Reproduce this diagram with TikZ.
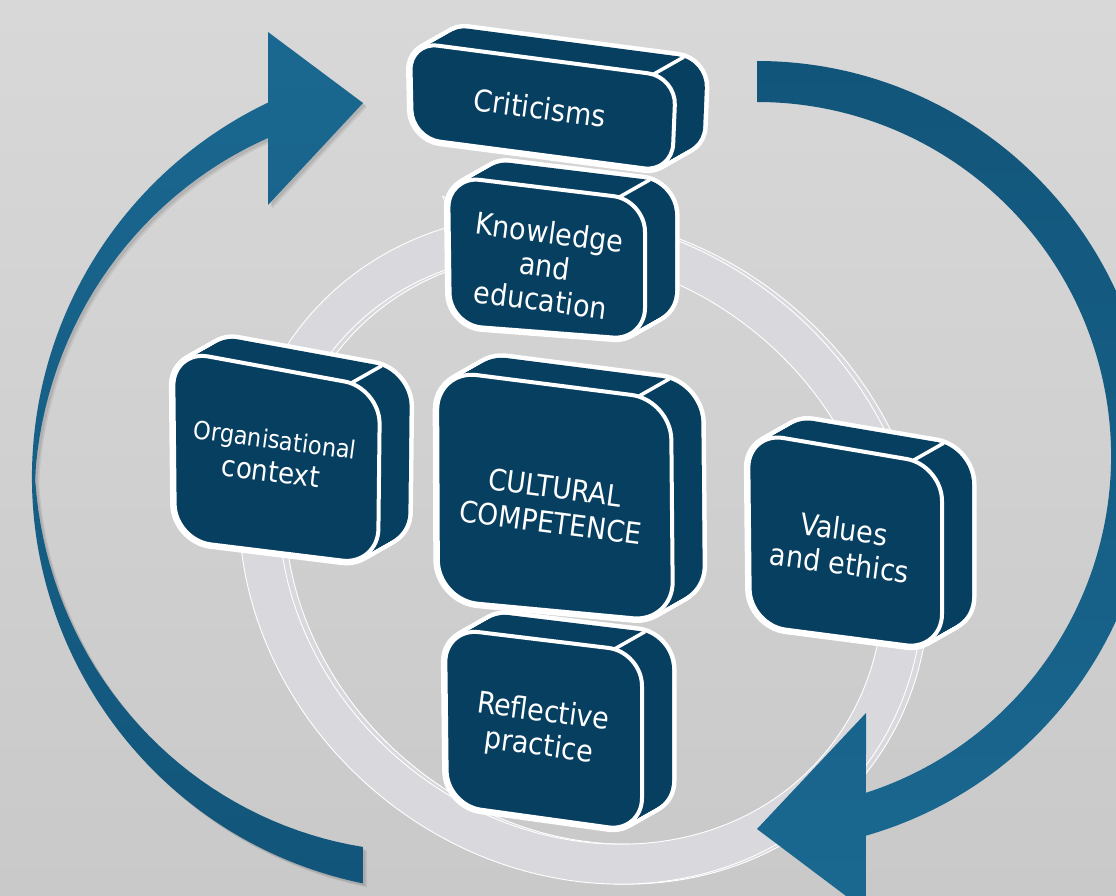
\documentclass[tikz,border=0pt]{standalone}
\usepackage{fontspec}
\setmainfont{DejaVu Sans Condensed}
\usetikzlibrary{calc}
\definecolor{navy}{HTML}{073F61}
\definecolor{arrowA}{HTML}{1A6891}
\definecolor{arrowB}{HTML}{12557A}
\definecolor{ringfill}{HTML}{D9D9DD}
\definecolor{bgtop}{HTML}{D8D8D8}
\definecolor{bgbot}{HTML}{C9C9C9}
\newcommand\drawcube[5]{%
 \foreach \ii in {0,...,16}{\path[draw=white,fill=white,line width=9pt,line join=round,rounded corners=#5pt,shift={({30*\ii/16},{-17*\ii/16})}] (#1)--(#2)--(#3)--(#4)--cycle;}%
 \foreach \ii in {0,...,16}{\path[fill=navy,rounded corners=#5pt,shift={({30*\ii/16},{-17*\ii/16})}] (#1)--(#2)--(#3)--(#4)--cycle;}%
 \draw[white,line width=3.5pt] ($(#2)!0.8*#5pt!(#1)$) -- ++(30,-17);%
 \draw[white,line width=4pt,fill=navy,rounded corners=#5pt] (#1)--(#2)--(#3)--(#4)--cycle;%
}
\tikzset{
 lbl/.style={text=white, align=center, rotate=-7.5, inner sep=0pt, font=\fontsize{30}{34}\selectfont},
 ringband/.style={fill=ringfill, draw=white, line width=0.9pt, even odd rule}
}
\begin{document}
\begin{tikzpicture}[x=1pt,y=-1pt]
\useasboundingbox (0,0) rectangle (1116,896);
\clip (0,0) rectangle (1116,896);
\shade[top color=bgtop, bottom color=bgbot] (0,0) rectangle (1116,896);

% ring (back copy, head, front copy)
\begin{scope}[shift={(587,549)}, rotate=-40]
 \path[ringband] (0,0) ellipse[x radius=358,y radius=318] (0,0) ellipse[x radius=318,y radius=278];
\end{scope}
\begin{scope}[shift={(581,549)}, rotate=-40]
 \path[fill=ringfill, draw=white, line width=0.9pt] (211.5:390 and 347) -- (225:338 and 298) -- (211.5:279 and 247) -- cycle;
 \path[ringband] (0,0) ellipse[x radius=358,y radius=318] (0,0) ellipse[x radius=318,y radius=278];
\end{scope}

% left arrow
\begin{scope}[shift={(447,477)}]
 \foreach \sx/\op in {4/0.07,2.5/0.09}{
 \fill[black, opacity=\op, shift={(\sx,\sx)}] (101.7:415) arc[start angle=101.7,end angle=244.45,radius=415] -- (-179,-445) -- (-84,-374) -- (-179,-272) -- (-179,-339) -- plot[domain=242.16:102.8,samples=70] (\x:{415-(\x>180 ? 3+28.6*(\x-180)/62.16 : 3+32.6*(180-\x)/77.2)}) -- cycle;}
 \shade[top color=arrowA, bottom color=arrowB] (101.7:415) arc[start angle=101.7,end angle=244.45,radius=415] -- (-179,-445) -- (-84,-374) -- (-179,-272) -- (-179,-339) -- plot[domain=242.16:102.8,samples=70] (\x:{415-(\x>180 ? 3+28.6*(\x-180)/62.16 : 3+32.6*(180-\x)/77.2)}) -- cycle;
\end{scope}

% right arrow
\begin{scope}[shift={(757,456)}]
 \shade[top color=arrowB, bottom color=arrowA] (-90:395) arc[start angle=-90,end angle=74.0,radius=395] -- (109,455) -- (0,373) -- (109,257) -- (72.07:354) arc[start angle=72.07,end angle=-90,radius=354] -- cycle;
\end{scope}

% boxes
\drawcube{173,350}{380,388}{378,565}{175,540}{36}
\drawcube{748,432}{942,465}{942,650}{750,625}{36}
\drawcube{445,628}{642,652}{642,832}{447,805}{34}
\drawcube{437,370}{671,400}{673,622}{438,600}{40}
\drawcube{448,176}{645,200}{645,340}{450,325}{32}
\drawcube{410,42}{676,77}{672,172}{412,138}{28}

% labels
\node[lbl] (crit) at (540,108) {Criticisms};
\node[lbl] (know) at (545,266) {Knowledge\\and\\education};
\node[lbl, font=\fontsize{25}{33}\selectfont] (org) at (273,456) {Organisational\\\fontsize{29}{33}\selectfont context};
\node[lbl, font=\fontsize{29.5}{35}\selectfont] (cult) at (553,505) {CULTURAL\\COMPETENCE};
\node[lbl] (val) at (842,546) {Values\\and ethics};
\node[lbl] (refl) at (541,730) {Reflective\\practice};
\end{tikzpicture}
\end{document}
